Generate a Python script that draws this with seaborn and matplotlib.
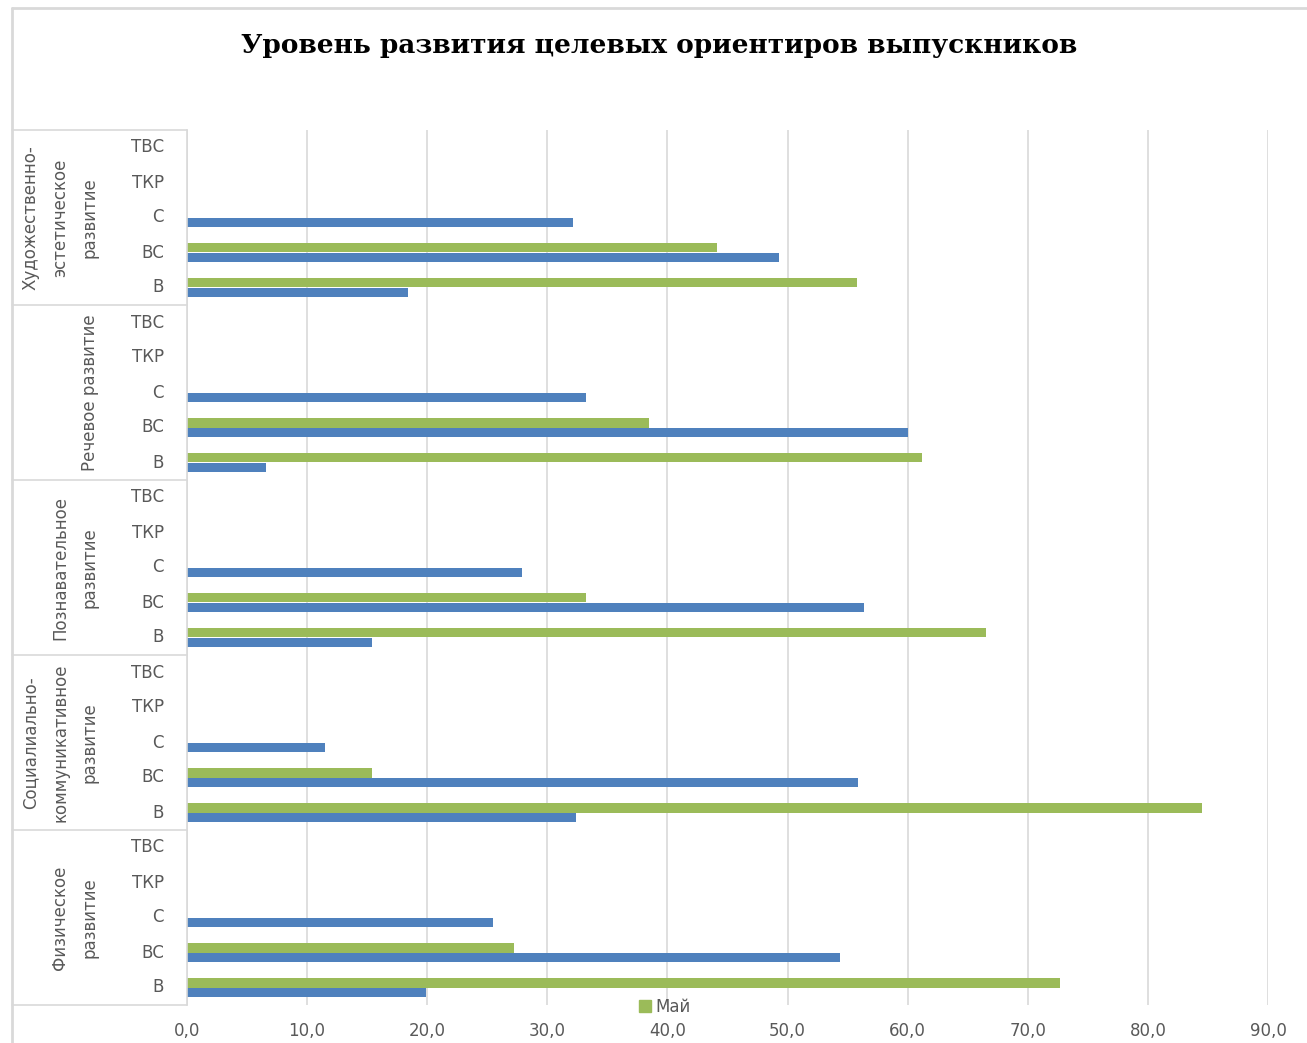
import numpy as np
import pandas as pd
import seaborn as sns
import matplotlib.pyplot as plt
from matplotlib.lines import Line2D
from matplotlib.patches import Patch

# --- data ---
groups = ['Художественно-\nэстетическое\nразвитие',
          'Речевое развитие',
          'Познавательное\nразвитие',
          'Социалиально-\nкоммуникативное\nразвитие',
          'Физическое\nразвитие']
levels = ['ТВС', 'ТКР', 'С', 'ВС', 'В']

# blue series (С, ВС, В) for each group, top group first
sep_c = [32.1, 33.2, 27.9, 11.5, 25.5]
sep_vs = [49.3, 60.0, 56.4, 55.9, 54.4]
sep_v = [18.4, 6.6, 15.4, 32.4, 19.9]
# green series "Май" (ВС, В)
may_vs = [44.1, 38.5, 33.2, 15.4, 27.2]
may_v = [55.8, 61.2, 66.5, 84.5, 72.7]

x_ticks = [0, 10, 20, 30, 40, 50, 60, 70, 80, 90]

BLUE = '#4F81BD'
GREEN = '#9BBB59'
GRAY_TXT = '#595959'
GRAY_LINE = '#D9D9D9'

rows = []
keys = []
for gi, g in enumerate(groups):
    for lv in levels:
        keys.append(f'{gi}_{lv}')
    rows.append((f'{gi}_С', 'Сентябрь', sep_c[gi]))
    rows.append((f'{gi}_ВС', 'Сентябрь', sep_vs[gi]))
    rows.append((f'{gi}_В', 'Сентябрь', sep_v[gi]))
    rows.append((f'{gi}_ВС', 'Май', may_vs[gi]))
    rows.append((f'{gi}_В', 'Май', may_v[gi]))
df = pd.DataFrame(rows, columns=['key', 'series', 'value'])

sns.set_theme(style='white')
plt.rcParams['font.family'] = ['DejaVu Sans']

W, H = 1307, 1043
fig = plt.figure(figsize=(W / 100, H / 100), dpi=100)
L, R, T, B = 187, 1268, 130, 1005
ax = fig.add_axes([L / W, 1 - B / H, (R - L) / W, (B - T) / H])

sns.barplot(data=df, x='value', y='key', hue='series', order=keys,
            hue_order=['Май', 'Сентябрь'], palette=[GREEN, BLUE],
            orient='h', width=0.52, saturation=1, legend=False, ax=ax,
            linewidth=0)

ax.set_xlim(0, 90)
ax.set_ylim(len(keys) - 0.5, -0.5)
ax.set_xticks(x_ticks)
ax.set_xticklabels([f'{v:.1f}'.replace('.', ',') for v in x_ticks],
                   color=GRAY_TXT, fontsize=12)
ax.tick_params(axis='x', length=0, pad=12)
ax.set_yticks([])
ax.set_xlabel('')
ax.set_ylabel('')
ax.grid(axis='x', color=GRAY_LINE, linewidth=1.2)
ax.set_axisbelow(True)
for s in ['top', 'right', 'bottom']:
    ax.spines[s].set_visible(False)
ax.spines['left'].set_color(GRAY_LINE)
ax.spines['left'].set_linewidth(1.2)

# category axis with group boxes
pw = R - L
trans = ax.get_yaxis_transform()
x_box = (12 - L) / pw
for i, key in enumerate(keys):
    ax.text((164 - L) / pw, i, key.split('_')[1], transform=trans,
            ha='right', va='center', fontsize=12, color=GRAY_TXT)
for gi, g in enumerate(groups):
    ax.text((99 - L) / pw, gi * 5 + 2, g, transform=trans, rotation=90,
            ha='right', va='center', multialignment='center',
            fontsize=12, color=GRAY_TXT, linespacing=1.85)
for gi in range(len(groups) + 1):
    ax.plot([x_box, 0], [gi * 5 - 0.5, gi * 5 - 0.5], transform=trans,
            color=GRAY_LINE, lw=1.2, clip_on=False)

# chart border
fig.add_artist(Line2D([12 / W, 12 / W], [0, 1 - 8 / H], color=GRAY_LINE, lw=2))
fig.add_artist(Line2D([12 / W, 1], [1 - 8 / H, 1 - 8 / H], color=GRAY_LINE, lw=2))

fig.text(659 / W, 1 - 45 / H, 'Уровень развития целевых ориентиров выпускников',
         ha='center', va='center', fontsize=19, fontweight='bold',
         family=['DejaVu Serif'], color='black')

fig.legend(handles=[Patch(color=GREEN, label='Май')], loc='center',
           bbox_to_anchor=(665 / W, 1 - 1007 / H), frameon=False,
           handlelength=0.7, handleheight=0.7, handletextpad=0.3,
           fontsize=12, labelcolor=GRAY_TXT)

fig.savefig('out.png', dpi=100, facecolor='white')
